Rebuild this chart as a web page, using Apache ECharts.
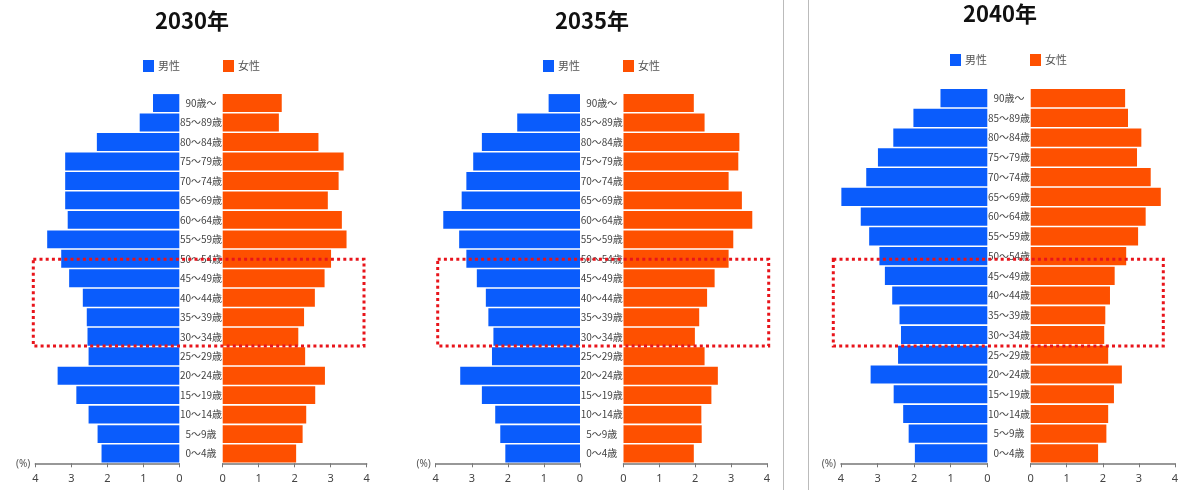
<!DOCTYPE html>
<html>
<head>
<meta charset="utf-8">
<style>
  html, body { margin: 0; padding: 0; background: #fff; }
  #chart { width: 1181px; height: 490px; }
</style>
<script src="https://cdn.jsdelivr.net/npm/echarts@6/dist/echarts.min.js"></script>
</head>
<body>
<div id="chart"></div>
<script>
// Age groups, oldest at the top
const ageGroups = ['90歳～','85～89歳','80～84歳','75～79歳','70～74歳','65～69歳','60～64歳',
  '55～59歳','50～54歳','45～49歳','40～44歳','35～39歳','30～34歳','25～29歳','20～24歳',
  '15～19歳','10～14歳','5～9歳','0～4歳'];

const years = ['2030年', '2035年', '2040年'];
const seriesNames = ['男性', '女性'];
const axisTicks = [0, 1, 2, 3, 4];

// Share of total population (%) by age group, same order as ageGroups
const male2030   = [0.73,1.10,2.29,3.17,3.17,3.17,3.10,3.67,3.28,3.06,2.68,2.57,2.55,2.52,3.38,2.86,2.52,2.27,2.16];
const female2030 = [1.64,1.56,2.66,3.36,3.22,2.92,3.31,3.44,3.01,2.83,2.56,2.26,2.10,2.29,2.84,2.57,2.32,2.22,2.04];
const male2035   = [0.87,1.74,2.72,2.96,3.15,3.28,3.79,3.35,3.15,2.86,2.61,2.54,2.40,2.44,3.32,2.72,2.35,2.21,2.07];
const female2035 = [1.96,2.26,3.23,3.20,2.93,3.30,3.59,3.06,2.93,2.54,2.33,2.11,1.99,2.26,2.63,2.45,2.17,2.18,1.96];
const male2040   = [1.28,2.02,2.57,2.99,3.31,3.99,3.46,3.23,2.95,2.80,2.60,2.40,2.36,2.44,3.19,2.56,2.30,2.15,1.98];
const female2040 = [2.62,2.70,3.07,2.95,3.33,3.61,3.19,2.98,2.65,2.33,2.20,2.07,2.04,2.15,2.53,2.31,2.15,2.10,1.87];

const maleData = [male2030, male2035, male2040];
const femaleData = [female2030, female2035, female2040];

// Pixel layout of the three pyramids
const panels = [
  { mL: 35.3,  mR: 179.3, fL: 222.7,  fR: 366.7,  top: 93.3, bottom: 463.3, titleX: 192,  titleY: 21, legL: 143, legT: 60, box: [33.3, 259.3, 364, 346] },
  { mL: 435.7, mR: 580,   fL: 623.5,  fR: 767,    top: 93.3, bottom: 463.3, titleX: 592,  titleY: 21, legL: 543, legT: 60, box: [437.7, 259.3, 768.7, 346] },
  { mL: 841,   mR: 987.3, fL: 1030.7, fR: 1176.7, top: 88.3, bottom: 463.3, titleX: 1000, titleY: 14, legL: 950, legT: 54, box: [833.3, 259.3, 1163.3, 346] }
];

const BLUE = '#0a5cfc';
const ORANGE = '#fe5000';
const W = 1181, H = 490;

const grid = [], xAxis = [], yAxis = [], series = [], legend = [], graphic = [];

panels.forEach((p, i) => {
  const h = p.bottom - p.top;
  grid.push({ left: p.mL, width: p.mR - p.mL, top: p.top, height: h });
  grid.push({ left: p.fL, width: p.fR - p.fL, top: p.top, height: h });

  const xBase = {
    type: 'value', min: axisTicks[0], max: axisTicks[axisTicks.length - 1], interval: 1,
    position: 'bottom',
    splitLine: { show: false },
    axisLine: { show: true, lineStyle: { color: '#777', width: 1.5 } },
    axisTick: { show: true, length: 4, lineStyle: { color: '#777' } },
    axisLabel: { color: '#444', fontSize: 11, margin: 10, fontFamily: 'Noto Sans' }
  };
  xAxis.push(Object.assign({}, xBase, { gridIndex: 2 * i, inverse: true }));
  xAxis.push(Object.assign({}, xBase, { gridIndex: 2 * i + 1 }));

  yAxis.push({
    type: 'category', gridIndex: 2 * i, data: ageGroups, inverse: true,
    axisLine: { show: false }, axisTick: { show: false }, axisLabel: { show: false }
  });
  const gapHalf = (p.fL - p.mR) / 2;
  yAxis.push({
    type: 'category', gridIndex: 2 * i + 1, data: ageGroups, inverse: true,
    axisLine: { show: false }, axisTick: { show: false },
    axisLabel: { show: true, align: 'center', margin: gapHalf, color: '#444', fontSize: 10,
      fontFamily: 'Noto Sans CJK JP' }
  });

  series.push({
    name: seriesNames[0], type: 'bar', xAxisIndex: 2 * i, yAxisIndex: 2 * i,
    data: maleData[i], barCategoryGap: '8%', itemStyle: { color: BLUE }, silent: true, z: 2
  });
  series.push({
    name: seriesNames[1], type: 'bar', xAxisIndex: 2 * i + 1, yAxisIndex: 2 * i + 1,
    data: femaleData[i], barCategoryGap: '8%', itemStyle: { color: ORANGE }, silent: true, z: 2
  });

  legend.push({
    data: seriesNames, left: p.legL, top: p.legT, orient: 'horizontal', padding: 0,
    icon: 'rect', itemWidth: 11, itemHeight: 12, itemGap: 43,
    textStyle: { color: '#555', fontSize: 11, fontFamily: 'Noto Sans CJK JP', padding: [0, 0, 0, -1] },
    selectedMode: false
  });

  // Year heading
  graphic.push({
    type: 'text', x: p.titleX, y: p.titleY, z: 100,
    style: { text: years[i], fill: '#111', font: 'bold 22px "Noto Sans CJK JP"',
      textAlign: 'center', textVerticalAlign: 'middle' }
  });
  // Unit marker beside the axis
  graphic.push({
    type: 'text', x: p.mL - 5, y: p.bottom + 1, z: 100,
    style: { text: '(%)', fill: '#555', font: '10px "Noto Sans"',
      textAlign: 'right', textVerticalAlign: 'middle' }
  });
  // Dotted highlight around ages 30–49
  const b = p.box;
  graphic.push({
    type: 'rect', z: 100,
    shape: { x: b[0], y: b[1], width: b[2] - b[0], height: b[3] - b[1] },
    style: { fill: null, stroke: '#e8141b', lineWidth: 3, lineDash: [3, 3.2] }
  });
});

// Separators between the second and third pyramid
[783.5, 808.5].forEach(x => {
  graphic.push({
    type: 'line', z: 100,
    shape: { x1: x, y1: 0, x2: x, y2: H },
    style: { stroke: '#bbb', lineWidth: 1 }
  });
});

const chart = echarts.init(document.getElementById('chart'), null, { renderer: 'canvas' });
chart.setOption({
  animation: false,
  backgroundColor: '#fff',
  grid, xAxis, yAxis, series, legend, graphic
});
</script>
</body>
</html>
